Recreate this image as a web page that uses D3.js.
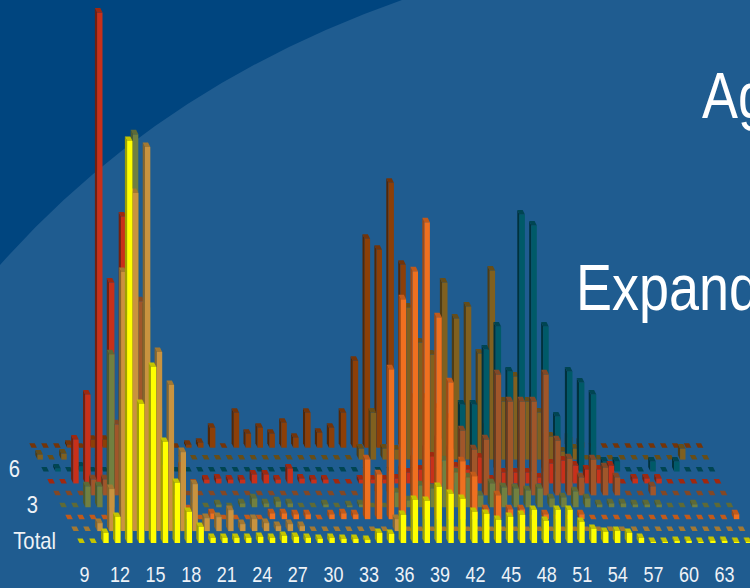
<!DOCTYPE html>
<html>
<head>
<meta charset="utf-8">
<style>
html,body{margin:0;padding:0;background:#1f5c90;overflow:hidden}
svg{display:block}
text{font-family:"Liberation Sans",Arial,sans-serif;fill:#fff}
</style>
<script src="https://cdn.jsdelivr.net/npm/d3@7"></script>
</head>
<body>
<div id="chart"></div>
<script>
// Ages along the front edge of the floor, 9 to 65.
const ages = d3.range(9, 66);
const tickAges = d3.range(9, 64, 3);
const rowLabels = ["Total", "", "", "3", "", "", "6", "", ""];

// One series per row of columns, front row first. Lines hold ages 9-18, 19-28, 29-38, 39-48, 49-58, 59-65.
const rowTotal = [
  0,0,1.0,2.6,40.2,13.9,17.6,10.1,6.0,3.1,
  1.6,0.5,0.5,0.5,0.5,0.6,0.5,0.7,0.6,0.5,
  0.4,0.5,0.4,0.4,0.3,1.0,0.9,2.8,4.3,4.2,
  5.6,4.9,4.4,3.1,2.9,2.3,2.6,2.8,3.3,2.2,
  3.3,3.3,2.1,1.4,1.1,1.2,1.0,0.5,0.1,0.1,
  0.2,0.2,0.1,0.2,0.2,0.1,0.1];
const row1 = [
  0,0,0.8,4.2,25.9,33.8,38.4,17.9,14.6,7.9,
  4.7,1.3,1.4,2.1,0.7,1.2,0.8,0.5,0.7,0.5,
  0,0,0,0,0,0,0,1.2,0,0,
  0,0,0,0,0,0,0,0,0,0,
  0,0,0,0,0,0,0,0,0,0,
  0,0,0,0,0,0,0];
const row2 = [
  0,0,0,0,0,20,8,6,5,2,
  1,0,0.6,0,0,0,0,0.6,0.6,0.5,
  0.5,0,0.5,0.6,0.5,6.0,4.5,15.0,22.0,24.8,
  29.7,20.2,13.7,5.8,4.3,1.0,2.4,1.0,1.0,0,
  0.5,0,0,0.5,0,0,0,0,0,0,
  0,0,0,0,0,0,0.5];
const row3 = [
  0,0,2.1,2.1,15.3,12,37.3,20,10,5,
  3,0,0,0.3,0,0.4,0.9,0.4,0.6,0.4,
  0,0,0.3,0,0.2,0.3,0,0,1.5,0.7,
  2.2,1.9,4.7,3.5,3.0,1.2,2.4,2,1.9,1.7,
  1.9,0.9,1.0,1.6,0.9,0.3,0.4,0.4,0.3,0.3,
  0.3,0,0,0.3,0,0,0];
const row4 = [
  0,0,0,1.6,1.6,7.1,9.6,19.4,7.6,2.6,
  0.6,0,0,0,0,0,0,0,0,0,
  0,0,0,0,0,0,0,0.6,1.6,2.6,
  3.6,4.6,5.6,4.6,6.5,4.6,5.6,12.1,9.4,9.4,
  9.4,12.1,5.5,3.7,1.8,3.6,2.8,1.8,0,0,
  0.9,0,0,0,0,0,0];
const row5 = [
  0,0,4.4,8.9,47.1,20.1,26.7,15,8,5,
  2.7,1.7,0,0.4,0.5,0.4,0.4,0.9,0.9,0.4,
  1.5,0.5,0.4,0.4,0,0,0.4,0.4,0.4,0.5,
  1.1,1.4,2.7,1.7,1.7,1.4,2.6,0.4,1.1,1.1,
  1.1,0.6,2.0,2.3,1.8,1.4,1.4,1.8,0,0.5,
  0.5,0.5,0,0,0,0,0];
const row6 = [
  0,0.3,0,0.5,0,0,0,0,0,0,
  0,0,0,0,0,0,0,0,0,0,
  0,0,0,0,0,0,0,0,0,0,
  0,0,0,0,0,6.7,6.7,12.2,14.5,10.0,
  25.7,24.6,14.5,5.5,10.0,8.9,7.7,1.0,1.0,0,
  0,1.0,0,1.0,0,0,0];
const row7 = [
  0.5,0,0.6,0,0,0,0,0,0,0,
  0,0,0,0,0,0,0,0,0,0,
  0,0,0,0,0,0,0,1.1,4.7,1.1,
  1.0,15.2,11.7,10.5,17.7,14.1,15.3,10.6,18.9,5.8,
  8.3,5.8,4.7,2.3,0.8,1.1,0,0,0,0,
  0,0,0,0,1.1,0,0];
const row8 = [
  0,0,0,0.3,0,0.8,0.8,0,0,0,
  0,0,0,0.3,0.5,2.0,0,3.5,1.4,2.0,
  1.4,2.5,1.0,3.5,1.5,2.0,3.5,8.7,20.9,19.8,
  26.5,18.3,5,5,4,3,2,2,2,2,
  2,1,1,1,1,1,0.5,0,0,0,
  0,0,0,0,0,0,0];
const rows = [rowTotal, row1, row2, row3, row4, row5, row6, row7, row8];

// Face colours for each row: front, side, top.
const rowFront = ["#ffff00","#c9933f","#ef7020","#718040","#a0562a","#c8301a","#005a68","#80601f","#8c3f08"];
const rowSide  = ["#a0a000","#86652c","#a04a14","#4e5a2c","#6a381c","#74200e","#00323d","#4f3c14","#542706"];
const rowTop   = ["#c4c400","#a37832","#c25a1a","#5e6a36","#824826","#a0280f","#004552","#664d18","#743408"];

const width = 750, height = 588;
const barWidth = 5.4, depthX = -2.2, depthY = -4.5;

const svg = d3.select("#chart").append("svg").attr("width", width).attr("height", height);

// Backdrop: mid blue with a darker swoosh in the upper left corner.
svg.append("rect").attr("width", width).attr("height", height).attr("fill", "#1f5c90");
svg.append("path").attr("d", "M0,0 L402,0 Q160,85 0,265 Z").attr("fill", "#00457f");

// Floor scales: age runs to the right, rows recede up and to the left.
const xAge = d3.scaleLinear().domain([9, 65]).range([79.5, 745.9]);
const rowX = d3.scaleLinear().domain([0, 8]).range([0, -48]);
const rowY = d3.scaleLinear().domain([0, 8]).range([543, 447.7]);
const barHeight = d3.scaleLinear().domain([0, 50]).range([0, 500]);

const poly = pts => "M" + pts.map(p => p.join(",")).join("L") + "Z";

// Paint rows from the back so nearer columns cover farther ones.
d3.range(rows.length - 1, -1, -1).forEach(r => {
  const g = svg.append("g").attr("class", "row");
  const bars = g.selectAll("g").data(rows[r].map((v, i) => ({age: ages[i], v})))
    .join("g");
  const left = d => xAge(d.age) + rowX(r);
  const base = rowY(r);
  const top = d => base - barHeight(d.v);
  bars.append("path").attr("fill", rowSide[r]).attr("d", d => poly([
    [left(d), base], [left(d), top(d)], [left(d) + depthX, top(d) + depthY], [left(d) + depthX, base + depthY]
  ]));
  bars.append("path").attr("fill", rowFront[r]).attr("d", d => poly([
    [left(d), base], [left(d) + barWidth, base], [left(d) + barWidth, top(d)], [left(d), top(d)]
  ]));
  bars.append("path").attr("fill", rowTop[r]).attr("d", d => poly([
    [left(d), top(d)], [left(d) + barWidth, top(d)],
    [left(d) + barWidth + depthX, top(d) + depthY], [left(d) + depthX, top(d) + depthY]
  ]));
});

// Age axis along the bottom.
const xAxisScale = d3.scaleLinear().domain([9, 63]).range([84, 724]);
const axis = svg.append("g").attr("transform", "translate(0,582)")
  .call(d3.axisBottom(xAxisScale).tickValues(tickAges).tickSize(0).tickPadding(0).tickFormat(d3.format("d")));
axis.select(".domain").remove();
axis.selectAll("text")
  .attr("y", 0).attr("dy", 0)
  .attr("text-anchor", "middle")
  .attr("transform", "scale(0.8,1)")
  .attr("font-size", 22.5)
  .style("fill", "#eef2f7");

// Row labels down the left side, right-aligned to the receding floor edge.
svg.selectAll(".rowLabel").data(rowLabels.map((t, i) => ({t, i})).filter(d => d.t))
  .join("text").attr("class", "rowLabel")
  .attr("text-anchor", "end")
  .attr("font-size", 23)
  .style("fill", "#eef2f7")
  .attr("transform", d => `translate(${56 + rowX(d.i)},${rowY(d.i) + 5.5}) scale(0.88,1)`)
  .text(d => d.t);

// Slide heading, running off the right edge.
const headings = [["Ag", 702, 118], ["Expand", 576, 310]];
svg.selectAll(".heading").data(headings).join("text").attr("class", "heading")
  .attr("font-size", 65)
  .attr("transform", d => `translate(${d[1]},${d[2]}) scale(0.83,1)`)
  .text(d => d[0]);
</script>
</body>
</html>
